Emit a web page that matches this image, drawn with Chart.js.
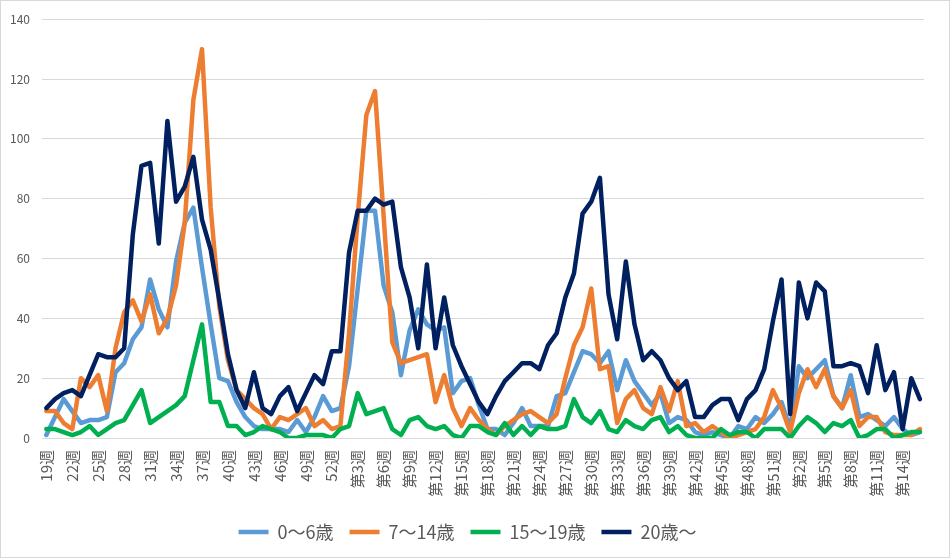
<!DOCTYPE html>
<html lang="ja">
<head>
<meta charset="utf-8">
<title>年齢別 週別推移</title>
<script src="https://cdn.jsdelivr.net/npm/chart.js@4.4.1/dist/chart.umd.min.js"></script>
<style>
  html, body { margin: 0; padding: 0; background: #fff; }
  .wrap { position: relative; width: 950px; height: 558px; }
  .frame { position: absolute; left: 0; top: 0; right: 0; bottom: 0; border: 1px solid #d9d9d9; pointer-events: none; }
</style>
</head>
<body>
<div class="wrap">
  <canvas id="weekly"></canvas>
  <div class="frame"></div>
</div>
<script>
// week labels (x axis categories)
const weeks = [
  '19週','20週','21週','22週','23週','24週','25週','26週','27週','28週',
  '29週','30週','31週','32週','33週','34週','35週','36週','37週','38週',
  '39週','40週','41週','42週','43週','44週','45週','46週','47週','48週',
  '49週','50週','51週','52週',
  '第1週','第2週','第3週','第4週','第5週','第6週','第7週','第8週','第9週','第10週',
  '第11週','第12週','第13週','第14週','第15週','第16週','第17週','第18週','第19週','第20週',
  '第21週','第22週','第23週','第24週','第25週','第26週','第27週','第28週','第29週','第30週',
  '第31週','第32週','第33週','第34週','第35週','第36週','第37週','第38週','第39週','第40週',
  '第41週','第42週','第43週','第44週','第45週','第46週','第47週','第48週','第49週','第50週',
  '第51週','第52週',
  '第1週','第2週','第3週','第4週','第5週','第6週','第7週','第8週','第9週','第10週',
  '第11週','第12週','第13週','第14週','第15週','第16週'
];

const seriesNames = ['0～6歳', '7～14歳', '15～19歳', '20歳～'];

const age0to6 = [
  1, 7, 13, 9, 5, 6, 6, 7, 22, 25,
  33, 37, 53, 43, 37, 59, 72, 77, 57, 38,
  20, 19, 12, 7, 4, 3, 3, 3, 2, 6,
  2, 7, 14, 9, 10, 24, 50, 76, 76, 51,
  42, 21, 36, 43, 38, 36, 37, 15, 19, 20,
  11, 3, 3, 1, 5, 10, 4, 4, 4, 14,
  15, 22, 29, 28, 25, 29, 16, 26, 19, 15,
  11, 15, 5, 7, 6, 2, 1, 2, 1, 0,
  4, 3, 7, 5, 8, 12, 3, 24, 20, 23,
  26, 14, 10, 21, 7, 8, 6, 4, 7, 3,
  1, 2
];

const age7to14 = [
  9, 9, 5, 3, 20, 17, 21, 9, 30, 42,
  46, 39, 48, 35, 40, 51, 72, 113, 130, 77,
  44, 26, 16, 13, 10, 8, 3, 7, 6, 8,
  10, 4, 6, 3, 4, 35, 74, 108, 116, 74,
  32, 25, 26, 27, 28, 12, 21, 10, 4, 10,
  6, 3, 1, 4, 6, 8, 9, 7, 5, 8,
  20, 31, 37, 50, 23, 24, 5, 13, 16, 10,
  8, 17, 9, 19, 4, 5, 2, 4, 2, 0,
  1, 2, 3, 7, 16, 10, 2, 15, 23, 17,
  23, 14, 10, 16, 4, 7, 7, 2, 1, 1,
  1, 3
];

const age15to19 = [
  3, 3, 2, 1, 2, 4, 1, 3, 5, 6,
  11, 16, 5, 7, 9, 11, 14, 26, 38, 12,
  12, 4, 4, 1, 2, 4, 3, 2, 0, 0,
  1, 1, 1, 0, 3, 4, 15, 8, 9, 10,
  3, 1, 6, 7, 4, 3, 4, 1, 0, 4,
  4, 2, 1, 5, 1, 4, 1, 4, 3, 3,
  4, 13, 7, 5, 9, 3, 2, 6, 4, 3,
  6, 7, 2, 4, 1, 0, 0, 0, 3, 1,
  2, 2, 0, 3, 3, 3, 0, 4, 7, 5,
  2, 5, 4, 6, 0, 1, 3, 3, 0, 1,
  2, 2
];

const age20plus = [
  10, 13, 15, 16, 14, 21, 28, 27, 27, 30,
  68, 91, 92, 65, 106, 79, 84, 94, 73, 63,
  46, 28, 16, 10, 22, 10, 8, 14, 17, 9,
  15, 21, 18, 29, 29, 62, 76, 76, 80, 78,
  79, 57, 47, 30, 58, 30, 47, 31, 24, 18,
  12, 8, 14, 19, 22, 25, 25, 23, 31, 35,
  47, 55, 75, 79, 87, 48, 33, 59, 38, 26,
  29, 26, 20, 16, 19, 7, 7, 11, 13, 13,
  6, 13, 16, 23, 39, 53, 8, 52, 40, 52,
  49, 24, 24, 25, 24, 15, 31, 16, 22, 3,
  20, 13
];

const yTicks = [0, 20, 40, 60, 80, 100, 120, 140];

const colors = ['#5b9bd5', '#ed7d31', '#00b050', '#002060'];
const allSeries = [age0to6, age7to14, age15to19, age20plus];

const textColor = '#595959';
const jpFont = '"Noto Sans CJK JP", "Noto Sans", sans-serif';

const ctx = document.getElementById('weekly');

new Chart(ctx, {
  type: 'line',
  data: {
    labels: weeks,
    datasets: allSeries.map((values, i) => ({
      label: seriesNames[i],
      data: values,
      borderColor: colors[i],
      backgroundColor: colors[i],
      borderWidth: 4.5,
      borderCapStyle: 'round',
      borderJoinStyle: 'round',
      pointRadius: 0,
      pointHoverRadius: 0,
      tension: 0,
      fill: false,
      order: allSeries.length - i // later series on top, like Excel
    }))
  },
  options: {
    responsive: true,
    maintainAspectRatio: false,
    animation: false,
    layout: {
      padding: { left: 0, right: 15, top: 11, bottom: 7 }
    },
    scales: {
      x: {
        offset: true,
        grid: { display: false, drawTicks: false },
        border: { display: false },
        ticks: {
          autoSkip: false,
          minRotation: 90,
          maxRotation: 90,
          padding: 12,
          color: textColor,
          font: { family: jpFont, size: 15 },
          callback: function (value, index) {
            return index % 3 === 0 ? weeks[index] : '';
          }
        },
        afterFit: function (axis) { axis.height = 69; }
      },
      y: {
        min: yTicks[0],
        max: yTicks[yTicks.length - 1],
        grid: { color: '#d9d9d9', lineWidth: 1, drawTicks: false },
        border: { display: false },
        afterBuildTicks: function (axis) {
          axis.ticks = yTicks.map(v => ({ value: v }));
        },
        ticks: {
          padding: 12,
          color: textColor,
          font: { family: jpFont, size: 12 }
        },
        afterFit: function (axis) { axis.width = 42; }
      }
    },
    plugins: {
      legend: {
        position: 'bottom',
        labels: {
          usePointStyle: true,
          pointStyle: 'line',
          pointStyleWidth: 30,
          padding: 16,
          color: textColor,
          font: { family: jpFont, size: 18 },
          sort: (a, b) => a.datasetIndex - b.datasetIndex
        }
      },
      tooltip: { enabled: false }
    }
  }
});
</script>
</body>
</html>
